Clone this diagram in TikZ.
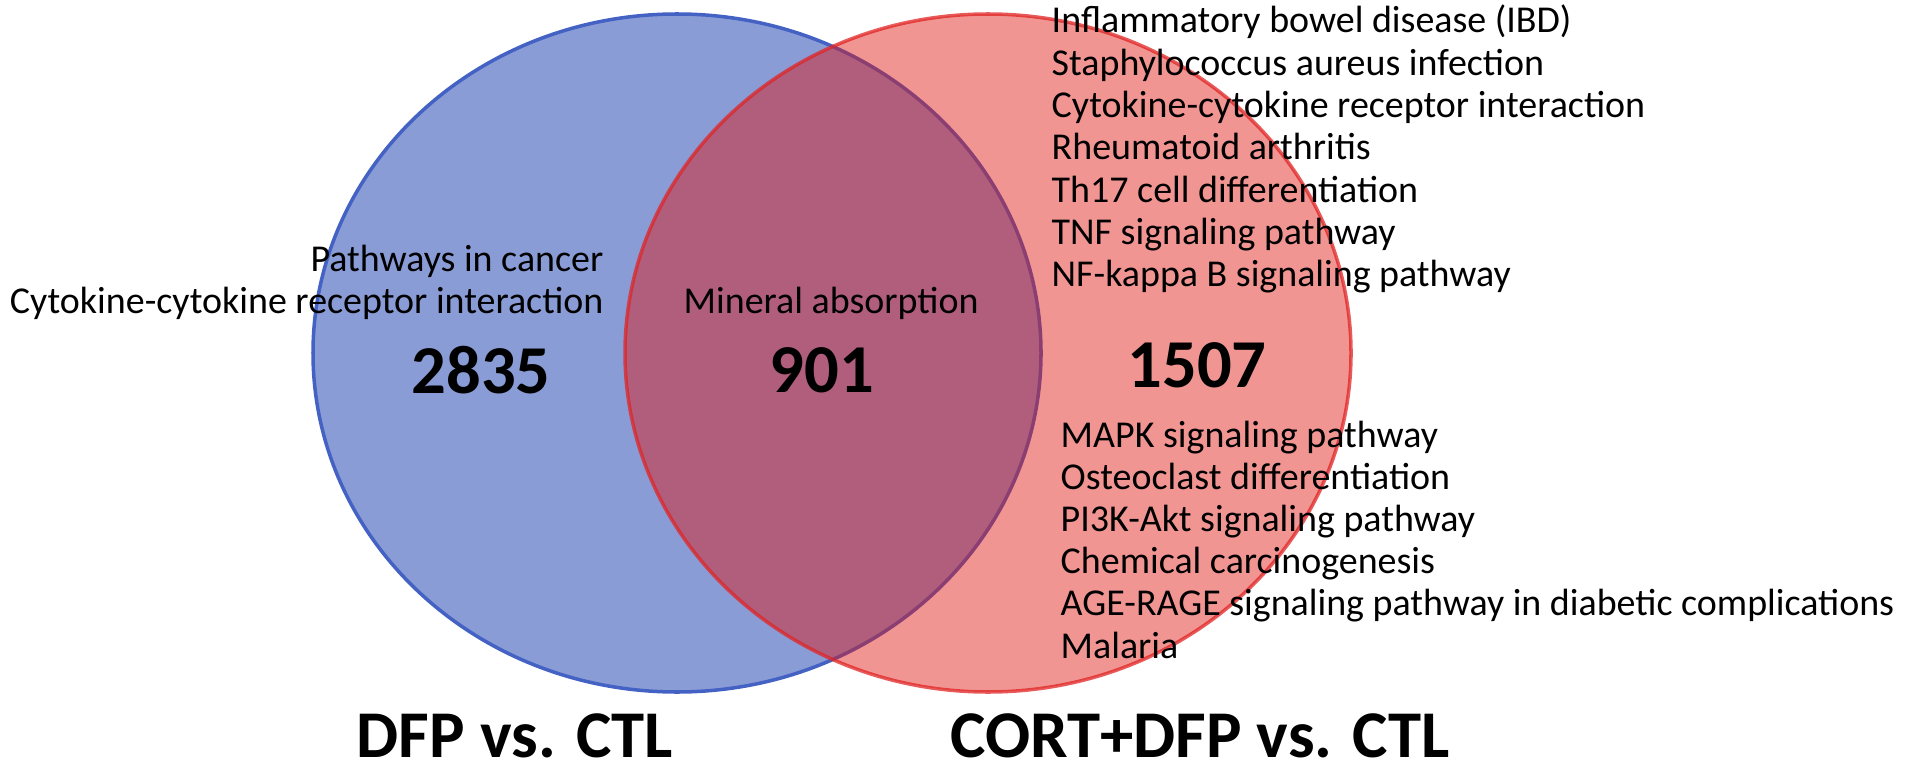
\documentclass[tikz,border=0pt]{standalone}
\usepackage{fontspec}
\setmainfont{Carlito}
\usepackage{xcolor}
\definecolor{cBlue}{HTML}{8A9CD6}
\definecolor{cBlueLine}{HTML}{4462C4}
\definecolor{cRed}{HTML}{E0140F}
\definecolor{cRedLine}{HTML}{E02424}
\usepackage{tikz}
\usetikzlibrary{positioning}
\tikzset{
  set-blue/.style={fill=cBlue,draw=cBlueLine,line width=1pt},
  set-red/.style={fill=cRed,fill opacity=.45,draw=cRedLine,draw opacity=.75,line width=1pt},
  term/.style={font=\fontsize{10.8}{11.7}\selectfont,inner sep=0pt},
  count/.style={font=\fontsize{19.5}{20}\selectfont\bfseries,inner sep=0pt},
  group-label/.style={font=\fontsize{19}{20}\selectfont\bfseries,inner sep=0pt,anchor=base},
}

\begin{document}
\begin{tikzpicture}
  \useasboundingbox (0,0) rectangle (192mm,-76.8mm);
  % the two sets
  \draw[set-blue] (67.7mm,-35.3mm) ellipse [x radius=36.4mm, y radius=33.9mm];
  \draw[set-red] (98.8mm,-35.3mm) ellipse [x radius=36.3mm, y radius=33.9mm];
  % counts
  \node[count] (n-dfp) at (48.1mm,-37.0mm) {2835};
  \node[count] (n-both) at (82.2mm,-37.0mm) {901};
  \node[count] (n-cort) at (119.7mm,-36.5mm) {1507};
  % pathway terms
  \node[term,anchor=base east] (dfp-1) at (60.4mm,-27.2mm) {Pathways in cancer};
  \node[term,anchor=base east] (dfp-2) at (60.4mm,-31.3mm) {Cytokine-cytokine receptor interaction};
  \node[term,anchor=base west] (both-1) at (68.3mm,-31.3mm) {Mineral absorption};
  \foreach \txt [count=\i] in {Inflammatory bowel disease (IBD),Staphylococcus aureus infection,%
    Cytokine-cytokine receptor interaction,Rheumatoid arthritis,Th17 cell differentiation,%
    TNF signaling pathway,NF-kappa B signaling pathway} {
    \node[term,anchor=base west] (up-\i) at (105.1mm,{-3.3mm-(\i-1)*4.23mm}) {\txt};
  }
  \foreach \txt [count=\i] in {MAPK signaling pathway,Osteoclast differentiation,%
    PI3K-Akt signaling pathway,Chemical carcinogenesis,%
    AGE-RAGE signaling pathway in diabetic complications,Malaria} {
    \node[term,anchor=base west] (down-\i) at (106.0mm,{-44.7mm-(\i-1)*4.22mm}) {\txt};
  }
  % group names
  \node[group-label] (g-dfp) at (51.5mm,-75.7mm) {DFP vs. CTL};
  \node[group-label] (g-cort) at (120.0mm,-75.7mm) {CORT+DFP vs. CTL};
\end{tikzpicture}
\end{document}
